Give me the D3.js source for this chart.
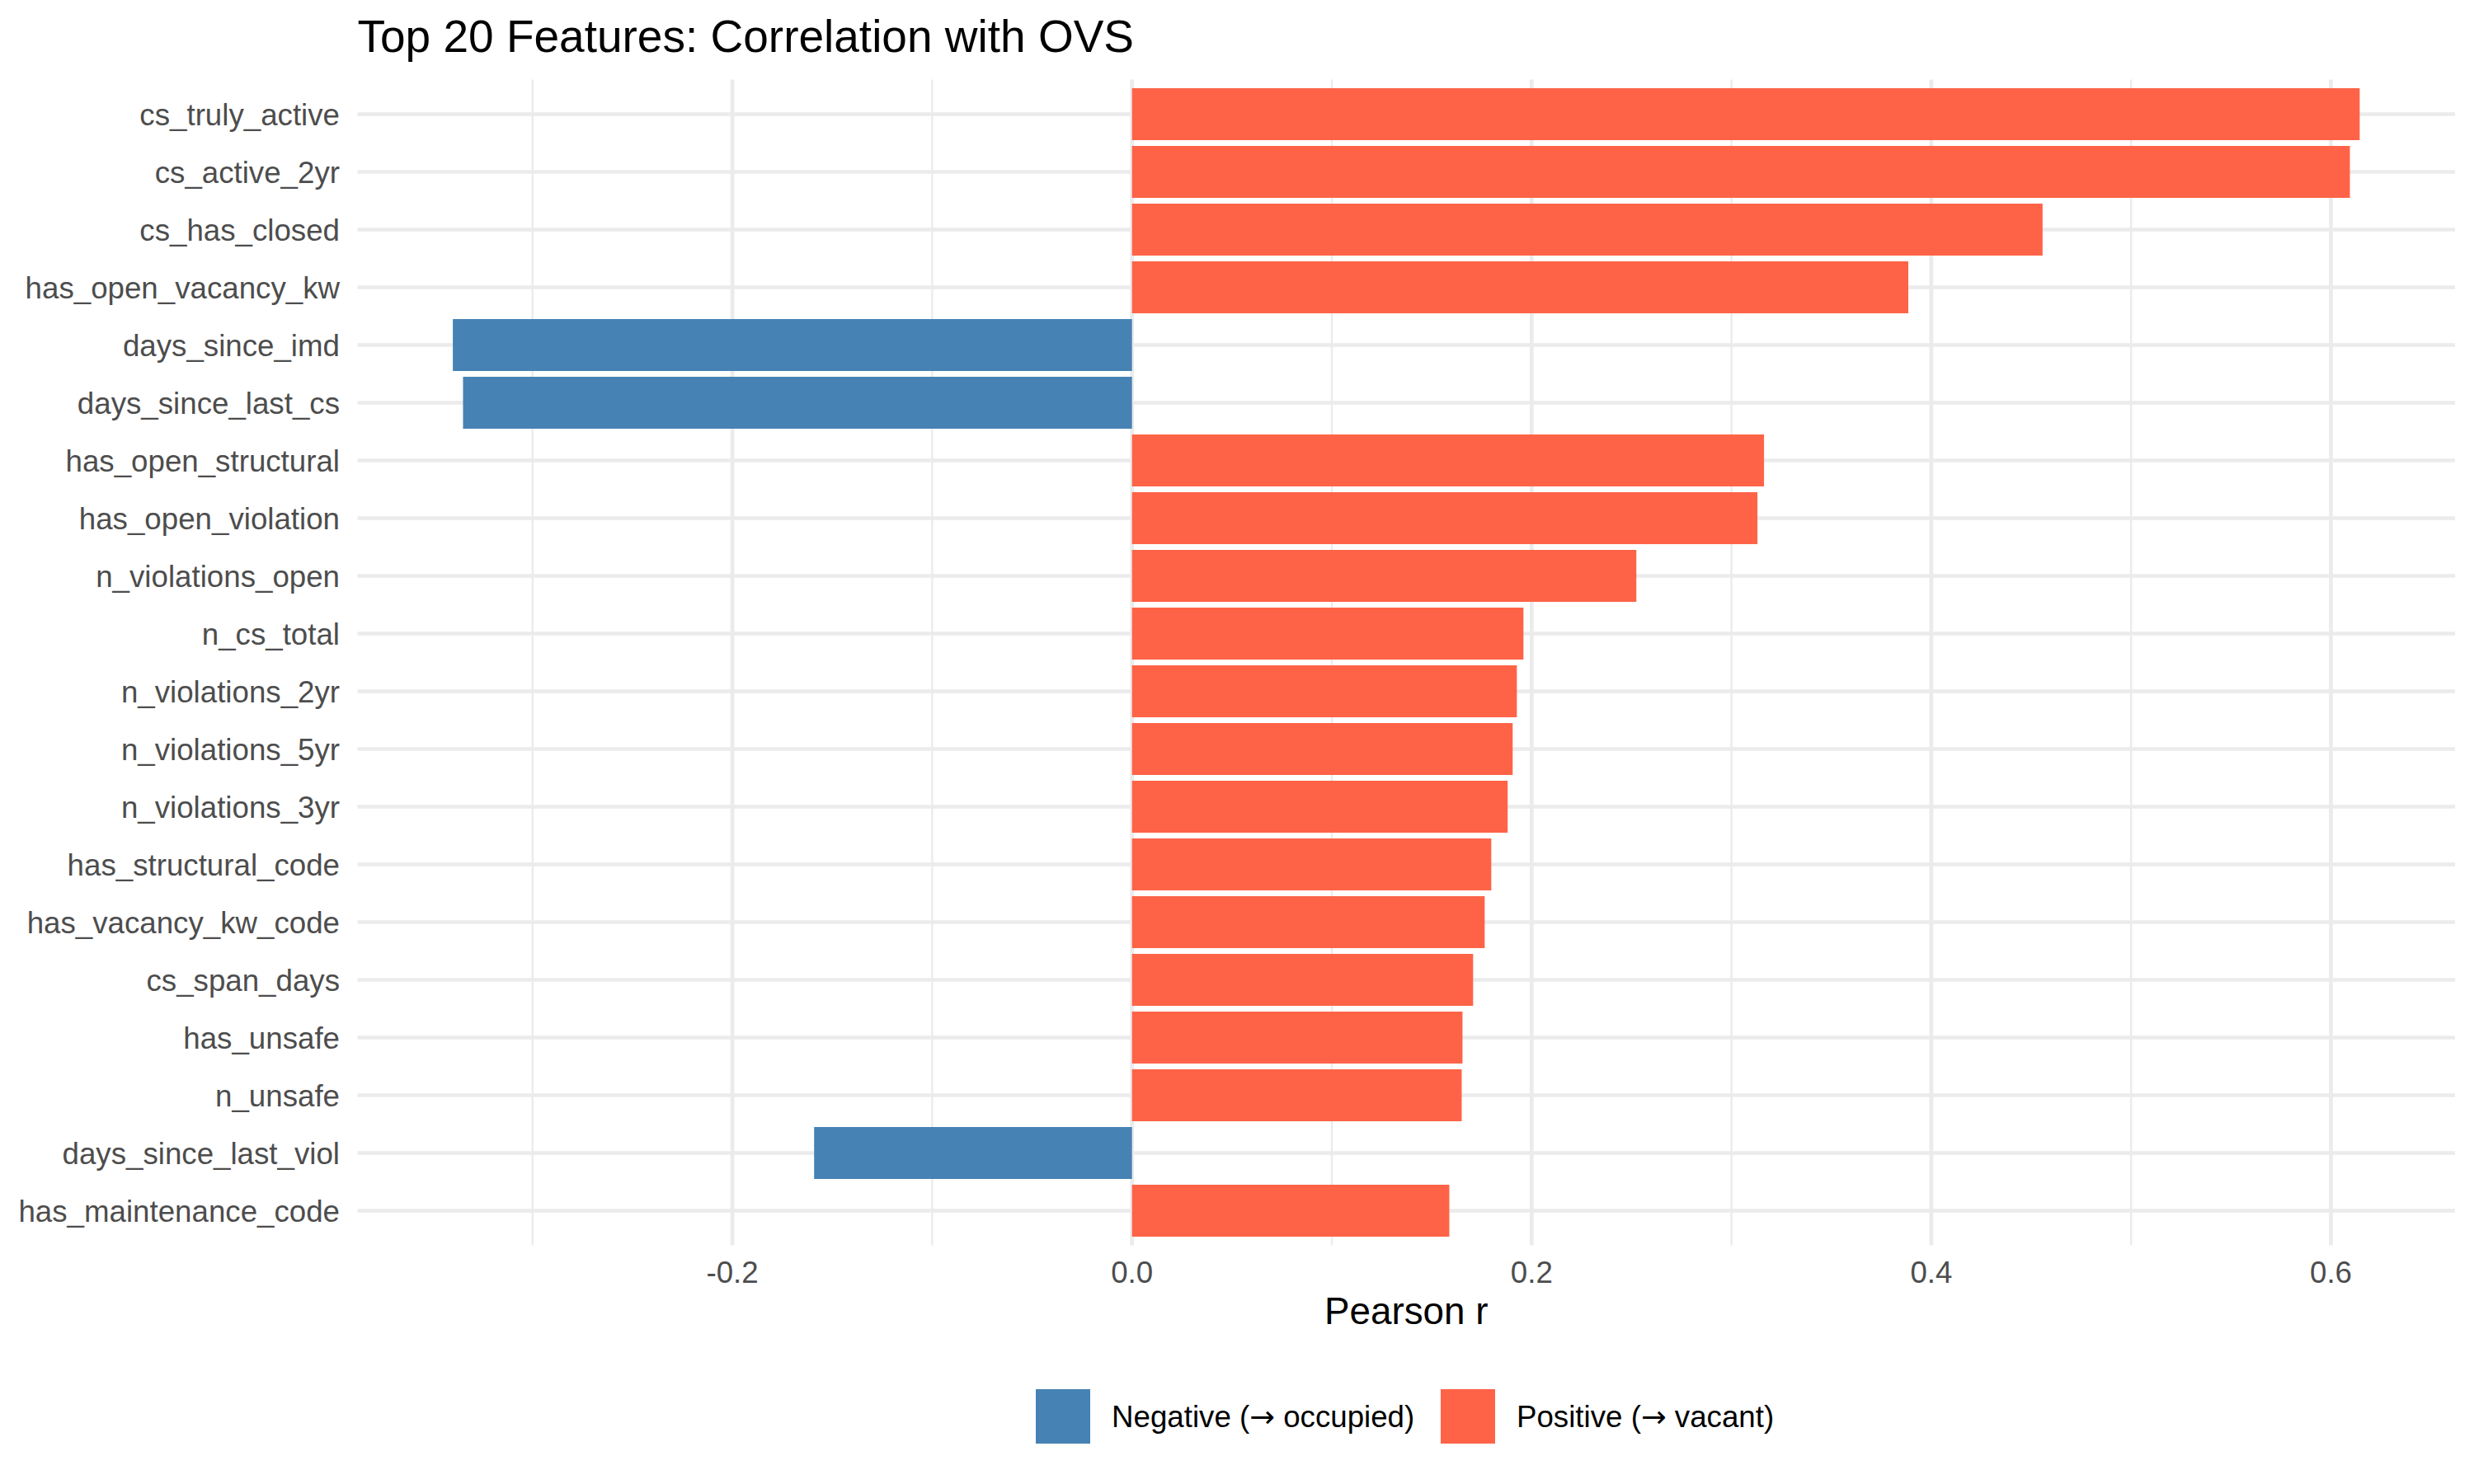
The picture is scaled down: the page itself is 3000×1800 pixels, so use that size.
<!DOCTYPE html>
<html>
<head>
<meta charset="utf-8">
<script src="https://cdn.jsdelivr.net/npm/d3@7"></script>
<style>
  body { margin: 0; background: #fff; }
  text { font-family: "Liberation Sans", Arial, Helvetica, sans-serif; }
</style>
</head>
<body>
<div id="chart"></div>
<script>
// data, top to bottom
var features = [
    'cs_truly_active', 'cs_active_2yr', 'cs_has_closed', 'has_open_vacancy_kw',
    'days_since_imd', 'days_since_last_cs', 'has_open_structural', 'has_open_violation',
    'n_violations_open', 'n_cs_total', 'n_violations_2yr', 'n_violations_5yr',
    'n_violations_3yr', 'has_structural_code', 'has_vacancy_kw_code', 'cs_span_days',
    'has_unsafe', 'n_unsafe', 'days_since_last_viol', 'has_maintenance_code'
];
var correlations = [
    0.6144, 0.6095, 0.4557, 0.3885,
    -0.3399, -0.3348, 0.3163, 0.3130,
    0.2524, 0.1959, 0.1926, 0.1905,
    0.1880, 0.1798, 0.1765, 0.1707,
    0.1654, 0.1650, -0.1591, 0.1588
];
var directions = ['Negative (\u2192 occupied)', 'Positive (\u2192 vacant)'];
var directionColors = ['#4682B4', '#FF6347'];

var title = 'Top 20 Features: Correlation with OVS';
var xTitle = 'Pearson r';

var width = 3000, height = 1800;
var panel = { left: 433.5, right: 2977, top: 96.5, bottom: 1510.5 };

var data = features.map((f, i) => {
    return { feature: f, r: correlations[i], dir: correlations[i] < 0 ? 0 : 1 };
});

var svg = d3.select('#chart')
    .append('svg')
    .attr('width', width)
    .attr('height', height);

// ggplot-style 5% expansion of the data range
var lo = d3.min(correlations), hi = d3.max(correlations);
var pad = (hi - lo) * 0.05;
var x = d3.scaleLinear()
    .domain([lo - pad, hi + pad])
    .range([panel.left, panel.right]);

// 0.6 category units of room at each end, bars 0.9 wide
var y = d3.scaleBand()
    .domain(features)
    .range([panel.top, panel.bottom])
    .paddingInner(0.1)
    .paddingOuter(0.15);

var grid = svg.append('g');

var major = x.ticks(5);
var step = major[1] - major[0];
var minor = major.map(t => t - step / 2).concat([major[major.length - 1] + step / 2])
    .filter(t => t >= x.domain()[0] && t <= x.domain()[1]);

grid.selectAll('line.minor')
    .data(minor)
    .join('line')
    .attr('class', 'minor')
    .attr('x1', d => x(d)).attr('x2', d => x(d))
    .attr('y1', panel.top).attr('y2', panel.bottom)
    .style('stroke', '#EBEBEB')
    .style('stroke-width', 2.35);

grid.selectAll('line.major')
    .data(major)
    .join('line')
    .attr('class', 'major')
    .attr('x1', d => x(d)).attr('x2', d => x(d))
    .attr('y1', panel.top).attr('y2', panel.bottom)
    .style('stroke', '#EBEBEB')
    .style('stroke-width', 4.7);

grid.selectAll('line.hmajor')
    .data(features)
    .join('line')
    .attr('class', 'hmajor')
    .attr('x1', panel.left).attr('x2', panel.right)
    .attr('y1', d => y(d) + y.bandwidth() / 2)
    .attr('y2', d => y(d) + y.bandwidth() / 2)
    .style('stroke', '#EBEBEB')
    .style('stroke-width', 4.7);

// bars
svg.append('g')
    .selectAll('rect')
    .data(data)
    .join('rect')
    .attr('x', d => Math.min(x(0), x(d.r)))
    .attr('width', d => Math.abs(x(d.r) - x(0)))
    .attr('y', d => y(d.feature))
    .attr('height', y.bandwidth())
    .style('fill', d => directionColors[d.dir]);

// y axis labels
svg.append('g')
    .selectAll('text')
    .data(features)
    .join('text')
    .attr('x', 412)
    .attr('y', d => y(d) + y.bandwidth() / 2 + 13)
    .style('text-anchor', 'end')
    .style('font-size', '36.7px')
    .style('fill', '#4D4D4D')
    .text(d => d);

// x axis labels
svg.append('g')
    .selectAll('text')
    .data(major)
    .join('text')
    .attr('x', d => x(d))
    .attr('y', 1556)
    .style('text-anchor', 'middle')
    .style('font-size', '36.7px')
    .style('fill', '#4D4D4D')
    .text(d => d.toFixed(1));

svg.append('text')
    .attr('x', (panel.left + panel.right) / 2)
    .attr('y', 1606)
    .style('text-anchor', 'middle')
    .style('font-size', '45.8px')
    .style('fill', '#000')
    .text(xTitle);

svg.append('text')
    .attr('x', panel.left)
    .attr('y', 63)
    .style('font-size', '55px')
    .style('fill', '#000')
    .text(title);

// legend
var keyX = [1256, 1747];
var legend = svg.append('g');
directions.forEach((label, i) => {
    legend.append('rect')
        .attr('x', keyX[i])
        .attr('y', 1685)
        .attr('width', 66)
        .attr('height', 66)
        .style('fill', directionColors[i]);
    var t = legend.append('text')
        .attr('x', keyX[i] + 92)
        .attr('y', 1731)
        .style('font-size', '36.7px')
        .style('fill', '#000');
    // the arrow glyph is too small in Liberation Sans, borrow DejaVu's
    label.split(/(\u2192)/).forEach(part => {
        var s = t.append('tspan').text(part);
        if (part == '\u2192') s.style('font-family', '"DejaVu Sans"');
    });
});
</script>
</body>
</html>
